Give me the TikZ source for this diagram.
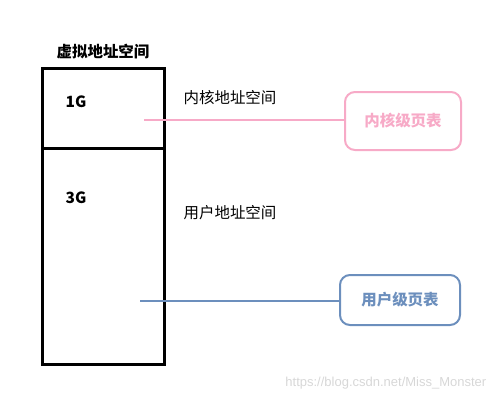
\documentclass[tikz,border=0pt]{standalone}
\usepackage{fontspec}
\setmainfont{Liberation Sans}
\newfontfamily\cjk{Noto Sans CJK SC}
\usepackage{tikz}
\usetikzlibrary{positioning, calc}
\definecolor{pinkline}{RGB}{247,170,199}
\definecolor{blueline}{RGB}{108,143,189}
\definecolor{wmgray}{RGB}{215,215,215}
\tikzset{
  membox/.style={rectangle,draw=black,line width=2.25pt,minimum width=91.5pt,inner sep=0pt},
  lbl/.style={font=\fontsize{11.6pt}{13pt}\selectfont\cjk,inner sep=0pt},
  blbl/.style={font=\fontsize{11.6pt}{13pt}\selectfont\cjk\bfseries,inner sep=0pt},
  ptbox/.style={rectangle,rounded corners=7.5pt,line width=1.5pt,align=center,
    font=\fontsize{11.6pt}{13pt}\selectfont\cjk\bfseries},
  conn/.style={line width=1.8pt}
}

\begin{document}
\begin{tikzpicture}[x=0.75pt,y=-0.75pt]
  \useasboundingbox (0,0) rectangle (500,401);
  \node[membox,minimum height=60pt] (kern) at (103,108) {};
  \node[membox,minimum height=162pt] (user) at (103,256) {};
  \node[blbl] (title) at (103,52) {虚拟地址空间};
  \node[blbl] (g1) at (76,102) {1G};
  \node[blbl] (g3) at (76,198) {3G};
  \node[lbl] (kspace) at (230,98) {内核地址空间};
  \node[lbl] (uspace) at (230,213) {用户地址空间};
  \node[ptbox,draw=pinkline,text=pinkline,minimum width=87pt,minimum height=43.5pt] (kpt) at (403,121) {内核级页表};
  \node[ptbox,draw=blueline,text=blueline,minimum width=90pt,minimum height=37.5pt] (upt) at (400,300) {用户级页表};
  \coordinate (kin) at (144,120);
  \coordinate (uin) at (140,301);
  \draw[conn,pinkline] (kin) -- (kin -| kpt.west);
  \draw[conn,blueline] (uin) -- (uin -| upt.west);
  \node[font=\fontsize{9.75pt}{11pt}\selectfont,text=wmgray,anchor=east] (wm) at (491,383) {https://blog.csdn.net/Miss\_Monster};
\end{tikzpicture}
\end{document}
